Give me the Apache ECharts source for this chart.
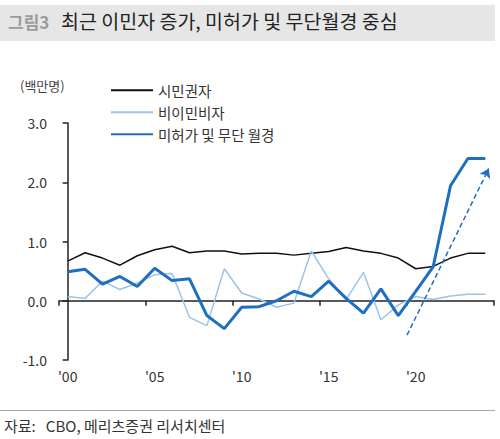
<!DOCTYPE html>
<html>
<head>
<meta charset="utf-8">
<script src="https://cdn.jsdelivr.net/npm/echarts@6/dist/echarts.min.js"></script>
<style>
  html, body { margin: 0; padding: 0; background: #fff; }
  #chart { width: 500px; height: 439px; }
</style>
</head>
<body>
<div id="chart"></div>
<script>
var years = ["'00","'01","'02","'03","'04","'05","'06","'07","'08","'09","'10","'11","'12",
             "'13","'14","'15","'16","'17","'18","'19","'20","'21","'22","'23","'24"];
// 시민권자
var citizen = [0.67,0.81,0.72,0.60,0.76,0.86,0.92,0.81,0.84,0.84,0.79,0.80,0.80,
               0.77,0.80,0.83,0.90,0.84,0.80,0.72,0.54,0.58,0.72,0.80,0.80];
// 비이민비자
var nonimm = [0.07,0.04,0.33,0.19,0.30,0.44,0.46,-0.28,-0.42,0.54,0.13,0.03,-0.11,
              -0.04,0.84,0.37,0.02,0.48,-0.32,-0.07,0.07,0.02,0.08,0.11,0.11];
// 미허가 및 무단 월경
var unauth = [0.49,0.53,0.28,0.41,0.24,0.55,0.34,0.37,-0.25,-0.47,-0.11,-0.10,0.00,
              0.16,0.07,0.33,0.04,-0.21,0.20,-0.25,0.16,0.57,1.94,2.40,2.40];
// dashed trend arrow (category index, value)
var arrowFrom = [19.5, -0.58];
var arrowTo = [24.2, 2.23];

var font = '"Noto Sans CJK KR", "Noto Sans", sans-serif';
var chart = echarts.init(document.getElementById('chart'), null, {renderer: 'svg'});

chart.setOption({
    animation: false,
    backgroundColor: '#fff',
    textStyle: { fontFamily: font },
    graphic: [
        { type: 'rect', left: 0, top: 5, shape: { width: 495, height: 36 }, style: { fill: '#e6e6e6' } },
        { type: 'text', left: 8, top: 13, style: { text: '그림3', fill: '#9b9b9b', font: 'bold 17px ' + font } },
        { type: 'text', left: 61, top: 11, style: { text: '최근 이민자 증가, 미허가 및 무단월경 중심', fill: '#222', font: '19.5px ' + font } },
        { type: 'text', left: 20, top: 79, style: { text: '(백만명)', fill: '#444', font: '13px ' + font } },
        { type: 'rect', left: 0, top: 410, shape: { width: 495, height: 1 }, style: { fill: '#aaa' } },
        { type: 'text', left: 4, top: 418, style: { text: '자료:   CBO, 메리츠증권 리서치센터', fill: '#333', font: '15px ' + font } }
    ],
    legend: {
        orient: 'vertical',
        left: 105,
        top: 78,
        itemWidth: 42,
        itemHeight: 14,
        itemGap: 7.5,
        itemStyle: { opacity: 0 },
        textStyle: { fontSize: 14.5, color: '#333', fontFamily: font },
        data: ['시민권자', '비이민비자', '미허가 및 무단 월경']
    },
    grid: { left: 59, right: 6, top: 123, bottom: 79 },
    xAxis: [
        {
            type: 'category',
            data: years,
            boundaryGap: true,
            axisLine: { onZero: true, lineStyle: { color: '#222', width: 1.5 } },
            axisTick: { show: true, interval: 4, length: 5, inside: false, lineStyle: { color: '#222', width: 1.5 } },
            axisLabel: { show: false }
        },
        {
            type: 'category',
            data: years,
            boundaryGap: true,
            position: 'bottom',
            axisLine: { show: false, onZero: false },
            axisTick: { show: false },
            axisLabel: { interval: 4, margin: 9, fontSize: 14, color: '#333', fontFamily: font }
        },
        {
            type: 'value',
            min: -0.5,
            max: 24.5,
            show: false
        }
    ],
    yAxis: {
        type: 'value',
        min: -1,
        max: 3,
        interval: 1,
        splitLine: { show: false },
        axisLine: { show: true, lineStyle: { color: '#222', width: 1.5 } },
        axisTick: { show: true, length: 5, lineStyle: { color: '#222', width: 1.5 } },
        axisLabel: { margin: 12, fontSize: 14, color: '#333', fontFamily: font,
                     formatter: function (v) { return v.toFixed(1); } }
    },
    series: [
        {
            name: '시민권자', type: 'line', data: citizen, xAxisIndex: 0,
            symbol: 'none', lineStyle: { color: '#111', width: 1.5 }, itemStyle: { color: '#111' }
        },
        {
            name: '비이민비자', type: 'line', data: nonimm, xAxisIndex: 0,
            symbol: 'none', lineStyle: { color: '#9cc3ea', width: 1.5 }, itemStyle: { color: '#9cc3ea' }
        },
        {
            name: '미허가 및 무단 월경', type: 'line', data: unauth, xAxisIndex: 0,
            symbol: 'none', lineStyle: { color: '#1f6fc1', width: 3 }, itemStyle: { color: '#1f6fc1' }
        },
        {
            name: 'arrow', type: 'line', data: [], xAxisIndex: 2,
            markLine: {
                silent: true,
                symbol: ['none', 'arrow'],
                symbolSize: 9,
                label: { show: false },
                lineStyle: { color: '#1f6fc1', width: 1.5, type: [5, 3] },
                data: [[{ coord: arrowFrom }, { coord: arrowTo }]]
            }
        }
    ]
});
</script>
</body>
</html>
